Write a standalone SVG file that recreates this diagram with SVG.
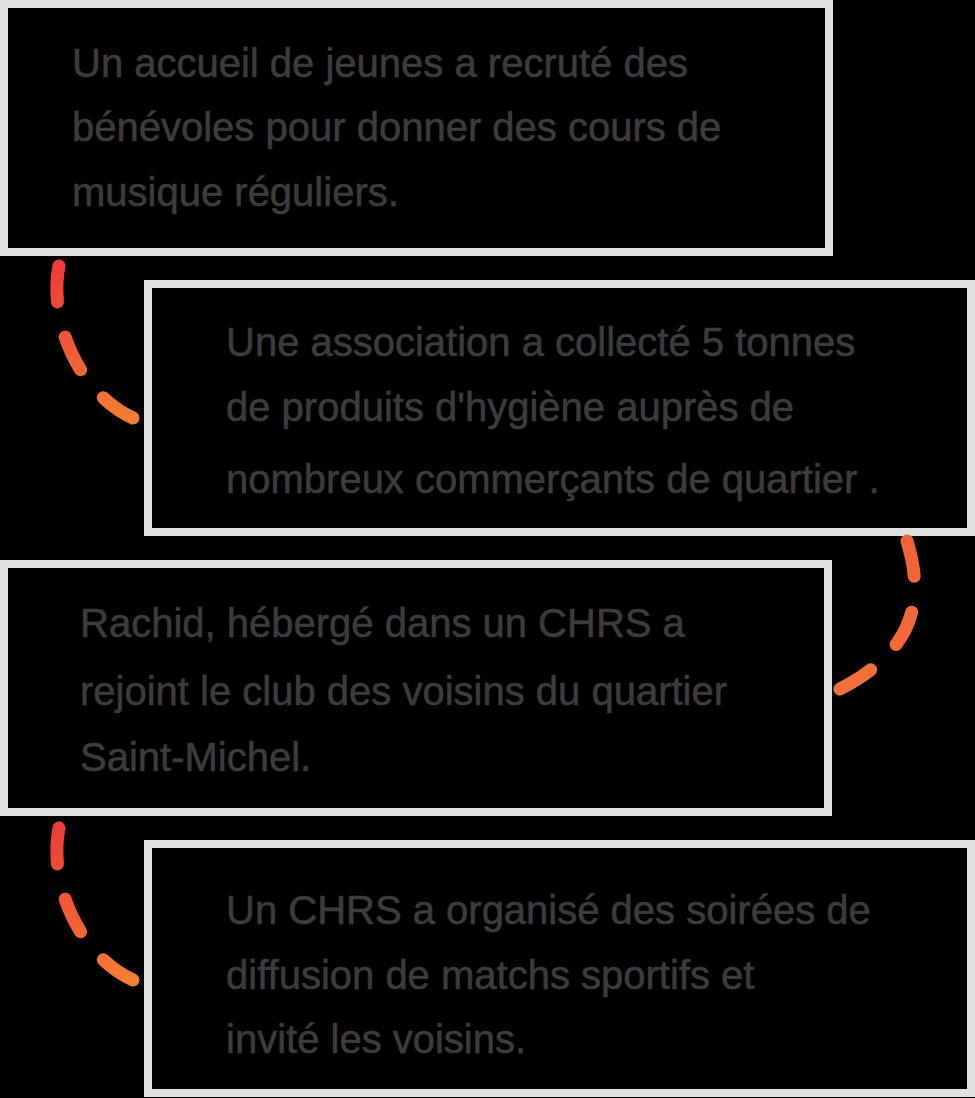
<svg xmlns="http://www.w3.org/2000/svg" width="975" height="1098" viewBox="0 0 975 1098">
  <style>
    .box { fill: #000000; stroke: #e0e0e0; stroke-width: 8; }
    .txt { font-family: "Liberation Sans", Arial, sans-serif; font-size: 40px; fill: #3c3c3c; stroke: #3c3c3c; stroke-width: 0.6; }
    .conn { fill: none; stroke-width: 13; stroke-linecap: round; stroke-dasharray: 1 1; }
  </style>
  <defs>
    <linearGradient id="gLeft1" gradientUnits="userSpaceOnUse" x1="59" y1="262" x2="133" y2="418">
      <stop offset="0" stop-color="#ee3c36"/>
      <stop offset="1" stop-color="#f57e35"/>
    </linearGradient>
    <linearGradient id="gRight" gradientUnits="userSpaceOnUse" x1="907" y1="541" x2="840" y2="689">
      <stop offset="0" stop-color="#f2623a"/>
      <stop offset="1" stop-color="#f4703a"/>
    </linearGradient>
    <linearGradient id="gLeft2" gradientUnits="userSpaceOnUse" x1="59" y1="824" x2="133" y2="980">
      <stop offset="0" stop-color="#ee3c36"/>
      <stop offset="1" stop-color="#f57e35"/>
    </linearGradient>
  </defs>
  <rect x="0" y="0" width="975" height="1098" fill="#000000"/>

  <g id="node1">
    <rect class="box" x="4" y="4" width="825" height="248"/>
    <text class="txt" x="72" y="77">Un accueil de jeunes a recruté des</text>
    <text class="txt" x="72" y="141">bénévoles pour donner des cours de</text>
    <text class="txt" x="72" y="206">musique réguliers.</text>
  </g>

  <g id="node2">
    <rect class="box" x="148" y="284" width="823" height="248"/>
    <text class="txt" x="226" y="356">Une association a collecté 5 tonnes</text>
    <text class="txt" x="226" y="421">de produits d'hygiène auprès de</text>
    <text class="txt" x="226" y="493">nombreux commerçants de quartier .</text>
  </g>

  <g id="node3">
    <rect class="box" x="4" y="564" width="824" height="248"/>
    <text class="txt" x="80" y="637">Rachid, hébergé dans un CHRS a</text>
    <text class="txt" x="80" y="705">rejoint le club des voisins du quartier</text>
    <text class="txt" x="80" y="771">Saint-Michel.</text>
  </g>

  <g id="node4">
    <rect class="box" x="148" y="844" width="823" height="249"/>
    <text class="txt" x="226" y="924">Un CHRS a organisé des soirées de</text>
    <text class="txt" x="226" y="989">diffusion de matchs sportifs et</text>
    <text class="txt" x="226" y="1053">invité les voisins.</text>
  </g>

  <g id="connectors">
    <path class="conn" stroke="url(#gLeft1)" pathLength="5" d="M59,266 C48,322 80,394 133,418"/>
    <path class="conn" stroke="url(#gRight)" pathLength="5" d="M907,541 C925,600 915,650 840,689"/>
    <path class="conn" stroke="url(#gLeft2)" pathLength="5" d="M59,828 C48,884 80,956 133,980"/>
  </g>
</svg>
